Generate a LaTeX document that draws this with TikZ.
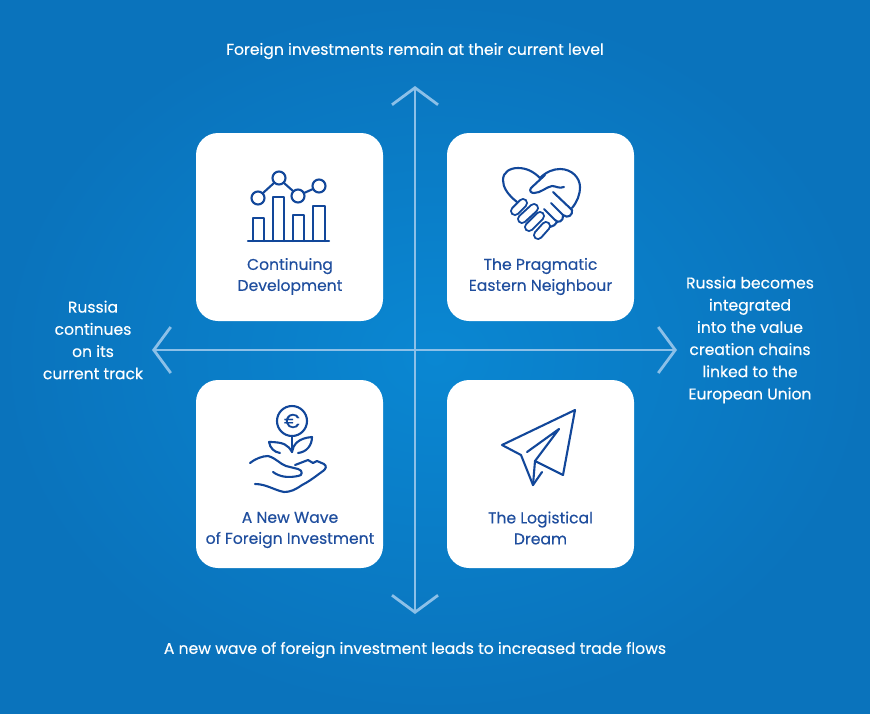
\documentclass[tikz,border=0pt]{standalone}
\usepackage{fontspec}
\setmainfont{Poppins}[FakeBold=0.3]
\usepackage{tikz}
\usetikzlibrary{arrows.meta}
\definecolor{inkblue}{HTML}{1F4E9E}
\definecolor{iconblue}{HTML}{12479A}
\definecolor{axisblue}{HTML}{8CC0E8}
\definecolor{skyedge}{HTML}{0A73BC}
\definecolor{skymid}{HTML}{0A87D2}
\tikzset{
    card/.style={fill=white, rounded corners=22pt, minimum width=187pt, minimum height=188pt, inner sep=0pt},
    cardtext/.style={text=inkblue, font=\fontsize{15.6}{21}\selectfont, align=center},
    axistext/.style={text=white, font=\fontsize{15.6}{22.2}\selectfont, align=center},
    axisline/.style={draw=axisblue, line width=2.8pt, {Straight Barb[length=17pt,width=46pt,line width=2.8pt]}-{Straight Barb[length=17pt,width=46pt,line width=2.8pt]}},
    icon/.style={draw=iconblue, line width=2.1pt, line cap=round, line join=round},
    finger/.style={icon, line width=2pt, double=white, double distance=6pt},
}
\begin{document}
\begin{tikzpicture}[x=1pt,y=-1pt]
        \useasboundingbox (0,0) rectangle (870,713);
        \shade[outer color=skyedge, inner color=skymid] (0,0) rectangle (870,713);

        \node[card] (growth) at (289.5,227) {};
        \node[card] (handshake) at (540.5,227) {};
        \node[card] (wave) at (289.5,474) {};
        \node[card] (plane) at (540.5,474) {};

        \node[cardtext] (growthtext) at (290,276.5) {Continuing\\Development};
        \node[cardtext] (handshaketext) at (540.5,276.5) {The Pragmatic\\Eastern Neighbour};
        \node[cardtext] (wavetext) at (290,530) {A New Wave\\of Foreign Investment};
        \node[cardtext] (planetext) at (540.5,528) {The Logistical\\Dream};

        \coordinate (north) at (415,86);
        \coordinate (south) at (415,614);
        \coordinate (west) at (152,350);
        \coordinate (east) at (677,350);
        \draw[axisline] (north) -- (south);
        \draw[axisline] (west) -- (east);

        \node[axistext] (toplabel) at (415,51) {Foreign investments remain at their current level};
        \node[axistext] (bottomlabel) at (415,650) {A new wave of foreign investment leads to increased trade flows};
        \node[axistext] (leftlabel) at (93,340) {Russia\\continues\\on its\\current track};
        \node[axistext] (rightlabel) at (750,340) {Russia becomes\\integrated\\into the value\\creation chains\\linked to the\\European Union};

        % chart
        \draw[icon] (248,241) -- (329,241);
        \draw[icon] (253,241) |- (264,218) -- (264,241);
        \draw[icon] (273,241) |- (284,197) -- (284,241);
        \draw[icon] (293,241) |- (304,215) -- (304,241);
        \draw[icon] (313,241) |- (325,206) -- (325,241);
        \draw[icon] (258,198) circle (6.5pt) (279,178) circle (6.5pt) (298,196) circle (6.5pt) (319,186) circle (6.5pt);
        \draw[icon] (263,193) -- (274,183) (284,183) -- (293,191) (304,193) -- (313,189);

        % heart and hands
        \draw[icon] (517,202) .. controls (507,194) and (503,187) .. (503,180) .. controls (503,172) and (510,168) .. (518,168) .. controls (527,168) and (534,172) .. (540,178) .. controls (546,172) and (553,169) .. (560,169) .. controls (572,169) and (580,178) .. (580,187) .. controls (580,195) and (577,202) .. (572,208);
        \draw[icon] (545,175) -- (531,188) .. controls (529,191) and (531,193) .. (534,193) .. controls (541,193) and (546,187) .. (552,186) .. controls (556,186) and (559,189) .. (564,187);
        \draw[icon] (553,192) -- (572,210) .. controls (573,215) and (568,219) .. (563,215) -- (551,203);
        \draw[icon] (563,215) .. controls (564,221) and (558,224) .. (555,220) -- (544,209);
        \draw[icon] (557,222) .. controls (556,225) and (553,226) .. (550,227);
        \draw[finger] (515,211) -- (523,203);
        \draw[finger] (522,219) -- (534,208);
        \draw[finger] (529,227) -- (540,216);
        \draw[finger] (538,235) -- (546,226);

        % euro plant
        \draw[icon] (292,421) circle (15pt);
        \node[text=iconblue, font=\fontsize{20}{20}\selectfont] (euro) at (292,421) {€};
        \draw[icon] (292,436) -- (292,452);
        \draw[icon] (292,452) .. controls (288,445) and (284,442) .. (269,442) .. controls (270,448) and (274,452) .. (280,453);
        \draw[icon] (292,452) .. controls (293,445) and (298,438) .. (312,437) .. controls (312,445) and (307,452) .. (298,453);
        \draw[icon] (250,463) .. controls (255,459) and (262,456) .. (268,456) .. controls (276,458) and (280,464) .. (286,466) -- (298,469) .. controls (303,470) and (303,476) .. (298,476) .. controls (288,478) and (280,477) .. (273,472);
        \draw[icon] (295,465) -- (308,460) -- (313,463) -- (317,461) -- (324,464) .. controls (327,466) and (326,469) .. (323,471) .. controls (316,476) and (310,481) .. (302,485) .. controls (295,490) and (290,492) .. (284,492) .. controls (274,490) and (266,484) .. (255,484);

        % paper plane
        \draw[icon] (535,461) -- (563,475) -- (575,410) -- (502,445) -- (521,455) -- (533,485) -- (542,472);
        \draw[icon] (527,452) -- (559,429) -- (535,461) -- (533,485);
\end{tikzpicture}
\end{document}
